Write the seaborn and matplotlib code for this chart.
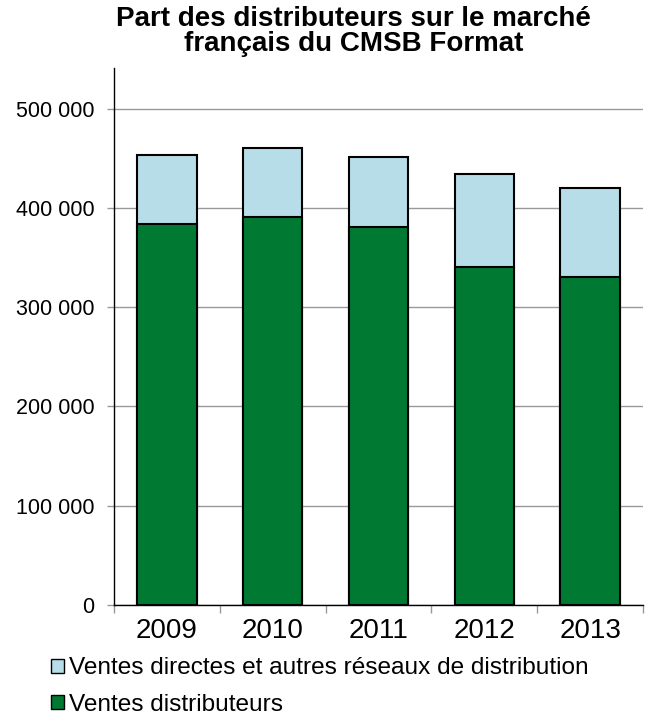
import pandas as pd
import numpy as np
import matplotlib.pyplot as plt
import seaborn as sns
from matplotlib.patches import Patch

# data
years = ['2009', '2010', '2011', '2012', '2013']
ventes_distributeurs = [383700, 390600, 381200, 340900, 330100]
ventes_directes = [69100, 70200, 70200, 93500, 90100]

df = pd.DataFrame({'annee': years,
                   'distrib': ventes_distributeurs,
                   'directes': ventes_directes})
df['total'] = df['distrib'] + df['directes']

green = '#007A33'
lightblue = '#B7DDE8'

sns.set_style('white')
plt.rcParams['font.family'] = ['Liberation Sans', 'DejaVu Sans']
plt.rcParams['text.color'] = 'black'

fig = plt.figure(figsize=(6.47, 7.2), dpi=100)
ax = fig.add_axes([0.1762, 0.1597, 0.8176, 0.746])

# stacked bars: total behind, distributeurs in front
sns.barplot(data=df, x='annee', y='total', color=lightblue, edgecolor='black',
            linewidth=1.5, width=0.56, saturation=1, ax=ax, zorder=2)
sns.barplot(data=df, x='annee', y='distrib', color=green, edgecolor='black',
            linewidth=1.5, width=0.56, saturation=1, ax=ax, zorder=3)

ax.set_ylim(0, 541000)
ax.set_xlim(-0.5, 4.5)
ax.set_yticks(np.arange(0, 500001, 100000))
ax.set_yticklabels(['0', '100 000', '200 000', '300 000', '400 000', '500 000'])
ax.yaxis.grid(True, color='#999999', linewidth=1, zorder=0)
ax.set_axisbelow(True)
ax.set_xlabel('')
ax.set_ylabel('')

for s in ['top', 'right']:
    ax.spines[s].set_visible(False)
ax.spines['left'].set_color('black')
ax.spines['bottom'].set_color('black')
ax.spines['left'].set_linewidth(1)
ax.spines['bottom'].set_linewidth(1)

ax.tick_params(axis='y', labelsize=15.5, length=5, color='#999999', width=1, pad=9,
               left=True, labelcolor='black')
ax.tick_params(axis='x', labelsize=20, length=0, pad=9, labelcolor='black')
# minor ticks between categories, like the original
ax.set_xticks(np.arange(-0.5, 4.6, 1), minor=True)
ax.tick_params(axis='x', which='minor', length=6, color='#999999', width=1, bottom=True)

fig.suptitle('Part des distributeurs sur le marché\nfrançais du CMSB Format',
             fontsize=20, fontweight='bold', x=0.547, y=0.991, linespacing=0.92)

handles = [Patch(facecolor=lightblue, edgecolor='black', label='Ventes directes et autres réseaux de distribution'),
           Patch(facecolor=green, edgecolor='black', label='Ventes distributeurs')]
fig.legend(handles=handles, loc='lower left', bbox_to_anchor=(0.053, -0.018), frameon=False,
           fontsize=17.6, handlelength=0.53, handleheight=0.53, handletextpad=0.2,
           labelspacing=0.59, borderaxespad=0.3)

plt.savefig('out.png', dpi=100)
